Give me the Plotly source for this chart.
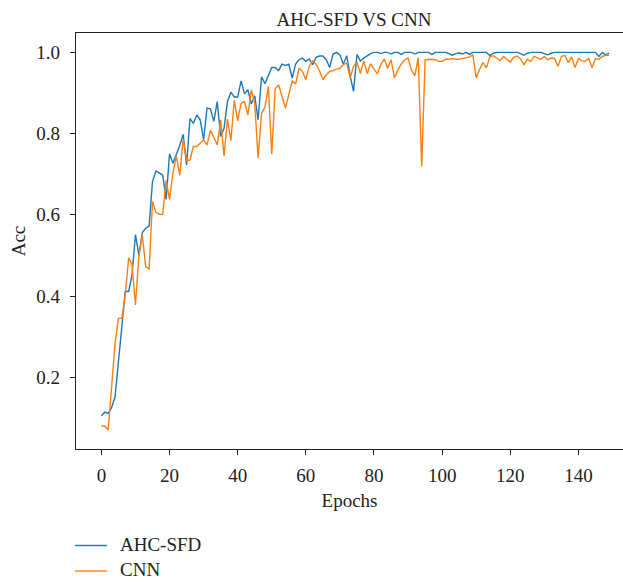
import plotly.graph_objects as go

epochs = list(range(150))

ahc_sfd = [
    0.105, 0.114, 0.111, 0.125, 0.152, 0.235, 0.325, 0.411, 0.411, 0.452,
    0.551, 0.501, 0.556, 0.567, 0.572, 0.682, 0.708, 0.704, 0.698, 0.638,
    0.750, 0.727, 0.748, 0.771, 0.798, 0.723, 0.837, 0.825, 0.846, 0.834,
    0.785, 0.863, 0.861, 0.830, 0.879, 0.793, 0.813, 0.879, 0.902, 0.890,
    0.890, 0.930, 0.898, 0.908, 0.873, 0.893, 0.834, 0.940, 0.923, 0.941,
    0.963, 0.963, 0.955, 0.971, 0.968, 0.971, 0.937, 0.971, 0.982, 0.986,
    0.978, 0.984, 0.970, 0.988, 0.991, 0.991, 0.982, 0.963, 0.996, 1.000,
    0.994, 0.971, 0.992, 0.942, 0.904, 0.995, 0.979, 0.986, 0.992, 0.997,
    1.000, 1.000, 0.997, 1.000, 1.000, 0.996, 1.000, 1.000, 0.995, 1.000,
    1.000, 1.000, 0.996, 1.000, 1.000, 1.000, 1.000, 0.995, 1.000, 1.000,
    1.000, 1.000, 0.997, 0.993, 0.997, 0.999, 0.996, 1.000, 0.995, 1.000,
    1.000, 1.000, 1.000, 1.000, 0.992, 0.998, 1.000, 1.000, 1.000, 1.000,
    1.000, 1.000, 1.000, 0.997, 0.993, 0.998, 1.000, 1.000, 1.000, 1.000,
    0.997, 0.994, 0.998, 1.000, 1.000, 1.000, 1.000, 1.000, 1.000, 1.000,
    1.000, 1.000, 1.000, 1.000, 1.000, 1.000, 0.990, 1.000, 0.994, 0.998,
]

cnn = [
    0.080, 0.080, 0.070, 0.170, 0.283, 0.345, 0.345, 0.402, 0.494, 0.478,
    0.378, 0.497, 0.551, 0.472, 0.467, 0.633, 0.606, 0.601, 0.601, 0.685,
    0.638, 0.703, 0.745, 0.697, 0.787, 0.734, 0.735, 0.769, 0.768, 0.776,
    0.785, 0.772, 0.808, 0.791, 0.772, 0.834, 0.745, 0.836, 0.783, 0.882,
    0.832, 0.875, 0.879, 0.846, 0.908, 0.875, 0.740, 0.850, 0.865, 0.916,
    0.749, 0.910, 0.920, 0.892, 0.863, 0.896, 0.930, 0.922, 0.961, 0.953,
    0.933, 0.966, 0.979, 0.971, 0.955, 0.933, 0.945, 0.953, 0.955, 0.959,
    0.961, 0.970, 0.974, 0.937, 0.966, 0.976, 0.948, 0.979, 0.948, 0.972,
    0.958, 0.947, 0.970, 0.984, 0.961, 0.982, 0.937, 0.957, 0.971, 0.982,
    0.986, 0.957, 0.943, 0.987, 0.719, 0.981, 0.983, 0.983, 0.982, 0.978,
    0.978, 0.983, 0.983, 0.985, 0.983, 0.983, 0.985, 0.988, 0.989, 0.994,
    0.937, 0.958, 0.975, 0.962, 0.989, 0.992, 0.986, 0.980, 0.990, 0.983,
    0.976, 0.988, 0.991, 0.984, 0.970, 0.983, 0.978, 0.990, 0.987, 0.983,
    0.990, 0.982, 0.986, 0.985, 0.966, 0.990, 0.993, 0.975, 0.989, 0.963,
    0.985, 0.979, 0.978, 0.985, 0.962, 0.985, 0.983, 0.990, 0.993, 0.993,
]

series_names = ["AHC-SFD", "CNN"]
series_colors = ["#1f77b4", "#ff7f0e"]

x_ticks = [0, 20, 40, 60, 80, 100, 120, 140]
y_ticks = [0.2, 0.4, 0.6, 0.8, 1.0]
y_tick_labels = ["0.2", "0.4", "0.6", "0.8", "1.0"]

FONT = "Liberation Serif"
W, H = 623, 582
ML, MT, MB = 76, 33, 133
PW, PH = W - ML, H - MT - MB

fig = go.Figure()
for name, vals, col in zip(series_names, [ahc_sfd, cnn], series_colors):
    fig.add_trace(go.Scatter(x=epochs, y=vals, mode="lines", name=name,
                             line=dict(color=col, width=1.4), showlegend=False))

# legend drawn below the axes (keys + labels), positioned in pixels
legend_rows_px = [544, 569.5]
for name, col, ypx in zip(series_names, series_colors, legend_rows_px):
    yp = -(ypx - (MT + PH)) / PH
    yk = -(ypx + 1.5 - (MT + PH)) / PH
    fig.add_shape(type="line", xref="paper", yref="paper",
                  x0=(75 - ML) / PW, x1=(107 - ML) / PW, y0=yk, y1=yk,
                  line=dict(color=col, width=1.4))
    fig.add_annotation(xref="paper", yref="paper", x=(119 - ML) / PW, y=yp,
                       xanchor="left", yanchor="middle", showarrow=False, borderpad=0,
                       text=name, font=dict(family=FONT, size=19, color="#222"))

fig.update_layout(
    width=W, height=H,
    margin=dict(l=ML, r=0, t=MT, b=MB, autoexpand=False),
    paper_bgcolor="white", plot_bgcolor="white",
    font=dict(family=FONT, size=19, color="#222"),
    title=dict(text="AHC-SFD VS CNN", x=354 / W, xref="container", xanchor="center",
               y=1 - 19 / H, yref="container", yanchor="middle",
               font=dict(family=FONT, size=19, color="#222")),
    showlegend=False,
    xaxis=dict(range=[-7.45, 153.08], tickvals=x_ticks, ticks="outside", ticklen=5,
               tickwidth=1.2, tickcolor="#222", showline=True, linecolor="#222", linewidth=1.3,
               mirror=True, showgrid=False, zeroline=False, ticklabelstandoff=4,
               title=dict(text="Epochs", standoff=8, font=dict(family=FONT, size=19))),
    yaxis=dict(range=[0.0233, 1.0478], tickvals=y_ticks, ticktext=y_tick_labels,
               ticks="outside", ticklen=5, tickwidth=1.2, tickcolor="#222",
               showline=True, linecolor="#222", linewidth=1.3, mirror=False,
               showgrid=False, zeroline=False, ticklabelstandoff=6,
               title=dict(text="Acc", standoff=5, font=dict(family=FONT, size=19))),
)

fig.write_html("out.html")
